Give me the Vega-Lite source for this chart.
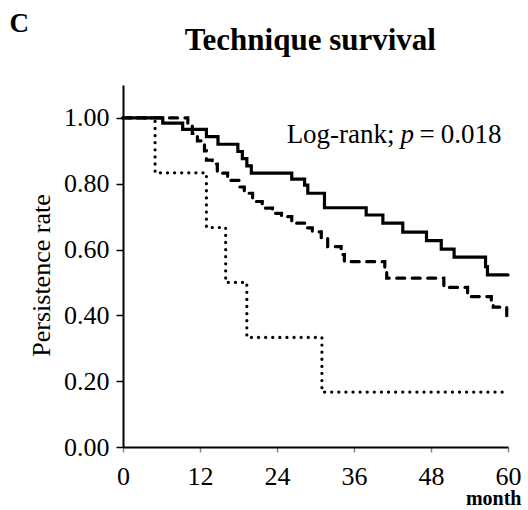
{
  "$schema": "https://vega.github.io/schema/vega-lite/v6.json",
  "width": 385,
  "height": 362,
  "autosize": {"type": "none"},
  "padding": {"left": 123, "top": 85, "right": 20, "bottom": 63},
  "background": "white",
  "config": {
    "view": {"stroke": null},
    "font": "Liberation Serif",
    "text": {"font": "Liberation Serif"}
  },
  "datasets": {
    "km": [
      {"group": "A", "month": 0, "surv": 1.0},
      {"group": "A", "month": 6.2, "surv": 0.984},
      {"group": "A", "month": 9.3, "surv": 0.965},
      {"group": "A", "month": 13.0, "surv": 0.943},
      {"group": "A", "month": 14.8, "surv": 0.92},
      {"group": "A", "month": 17.9, "surv": 0.898},
      {"group": "A", "month": 18.6, "surv": 0.876},
      {"group": "A", "month": 19.3, "surv": 0.854},
      {"group": "A", "month": 20.0, "surv": 0.832},
      {"group": "A", "month": 26.3, "surv": 0.814},
      {"group": "A", "month": 28.3, "surv": 0.796},
      {"group": "A", "month": 28.8, "surv": 0.771},
      {"group": "A", "month": 31.4, "surv": 0.727},
      {"group": "A", "month": 37.9, "surv": 0.705},
      {"group": "A", "month": 40.5, "surv": 0.68},
      {"group": "A", "month": 43.6, "surv": 0.653},
      {"group": "A", "month": 47.3, "surv": 0.627},
      {"group": "A", "month": 49.6, "surv": 0.601},
      {"group": "A", "month": 51.6, "surv": 0.577},
      {"group": "A", "month": 56.5, "surv": 0.548},
      {"group": "A", "month": 56.8, "surv": 0.523},
      {"group": "A", "month": 60, "surv": 0.523},
      {"group": "B", "month": 0, "surv": 1.0},
      {"group": "B", "month": 10.1, "surv": 0.979},
      {"group": "B", "month": 10.8, "surv": 0.953},
      {"group": "B", "month": 11.6, "surv": 0.93},
      {"group": "B", "month": 12.7, "surv": 0.9},
      {"group": "B", "month": 13.0, "surv": 0.872},
      {"group": "B", "month": 13.9, "surv": 0.86},
      {"group": "B", "month": 14.7, "surv": 0.832},
      {"group": "B", "month": 16.3, "surv": 0.81},
      {"group": "B", "month": 18.2, "surv": 0.79},
      {"group": "B", "month": 18.9, "surv": 0.771},
      {"group": "B", "month": 20.2, "surv": 0.746},
      {"group": "B", "month": 21.7, "surv": 0.726},
      {"group": "B", "month": 23.3, "surv": 0.71},
      {"group": "B", "month": 24.7, "surv": 0.7},
      {"group": "B", "month": 26.3, "surv": 0.68},
      {"group": "B", "month": 28.6, "surv": 0.666},
      {"group": "B", "month": 29.5, "surv": 0.654},
      {"group": "B", "month": 30.9, "surv": 0.634},
      {"group": "B", "month": 31.9, "surv": 0.609},
      {"group": "B", "month": 34.0, "surv": 0.585},
      {"group": "B", "month": 34.5, "surv": 0.563},
      {"group": "B", "month": 40.8, "surv": 0.537},
      {"group": "B", "month": 41.1, "surv": 0.513},
      {"group": "B", "month": 50.0, "surv": 0.485},
      {"group": "B", "month": 53.7, "surv": 0.457},
      {"group": "B", "month": 57.4, "surv": 0.44},
      {"group": "B", "month": 57.7, "surv": 0.425},
      {"group": "B", "month": 59.8, "surv": 0.396},
      {"group": "B", "month": 60, "surv": 0.396},
      {"group": "C", "month": 0, "surv": 1.0},
      {"group": "C", "month": 5, "surv": 0.833},
      {"group": "C", "month": 13, "surv": 0.667},
      {"group": "C", "month": 16, "surv": 0.5},
      {"group": "C", "month": 19.3, "surv": 0.333},
      {"group": "C", "month": 31, "surv": 0.167},
      {"group": "C", "month": 60, "surv": 0.167}
    ],
    "labels": [
      {"label": "Log-rank;", "month": 25.5, "surv": 0.923, "kind": "left"},
      {"label": "=", "month": 46.2, "surv": 0.923, "kind": "left"},
      {"label": "0.018", "month": 59.0, "surv": 0.923, "kind": "right"},
      {"label": "p", "month": 44.3, "surv": 0.923, "kind": "italic"},
      {"label": "C", "month": -17.7, "surv": 1.261, "kind": "panel"},
      {"label": "Technique survival", "month": 29.2, "surv": 1.207, "kind": "title"}
    ]
  },
  "layer": [
    {
      "data": {"name": "km"},
      "mark": {"type": "line", "interpolate": "step-after", "color": "black", "strokeWidth": 3.2, "strokeCap": "round"},
      "encoding": {
        "x": {
          "field": "month", "type": "quantitative",
          "scale": {"domain": [0, 60], "nice": false, "zero": false},
          "axis": {
            "values": [0, 12, 24, 36, 48, 60],
            "title": "month",
            "titleFont": "Liberation Serif",
            "titleFontSize": 20,
            "titleFontWeight": "bold",
            "titleColor": "black",
            "titleAnchor": "end",
            "titleAlign": "right",
            "titleBaseline": "alphabetic",
            "titleX": 398,
            "titleY": 57,
            "labelFont": "Liberation Serif",
            "labelFontSize": 26,
            "labelColor": "black",
            "labelPadding": 11,
            "labelFlush": false,
            "labelOverlap": false,
            "tickSize": 5,
            "tickColor": "#888888",
            "tickWidth": 1.5,
            "domainColor": "black",
            "domainWidth": 2,
            "grid": false
          }
        },
        "y": {
          "field": "surv", "type": "quantitative",
          "scale": {"domain": [0, 1.1], "nice": false},
          "axis": {
            "values": [0, 0.2, 0.4, 0.6, 0.8, 1.0],
            "format": ".2f",
            "title": "Persistence rate",
            "titleFont": "Liberation Serif",
            "titleFontSize": 26,
            "titleFontWeight": "normal",
            "titleColor": "black",
            "titleAngle": -90,
            "titleAlign": "center",
            "titleBaseline": "middle",
            "titleX": -82,
            "titleY": 190,
            "labelFont": "Liberation Serif",
            "labelFontSize": 26,
            "labelColor": "black",
            "labelPadding": 7,
            "labelFlush": false,
            "labelOverlap": false,
            "tickSize": 7,
            "tickColor": "black",
            "tickWidth": 1.5,
            "domainColor": "black",
            "domainWidth": 2,
            "grid": false
          }
        },
        "strokeDash": {
          "field": "group", "type": "nominal",
          "scale": {"domain": ["A", "B", "C"], "range": [[1, 0], [8, 7.5], [0.1, 7]]},
          "legend": null
        },
        "detail": {"field": "group"}
      }
    },
    {
      "data": {"name": "labels"},
      "transform": [{"filter": "datum.kind === 'left'"}],
      "mark": {"type": "text", "align": "left", "baseline": "alphabetic", "fontSize": 27, "font": "Liberation Serif", "color": "black"},
      "encoding": {
        "x": {"field": "month", "type": "quantitative"},
        "y": {"field": "surv", "type": "quantitative"},
        "text": {"field": "label"}
      }
    },
    {
      "data": {"name": "labels"},
      "transform": [{"filter": "datum.kind === 'right'"}],
      "mark": {"type": "text", "align": "right", "baseline": "alphabetic", "fontSize": 27, "font": "Liberation Serif", "color": "black"},
      "encoding": {
        "x": {"field": "month", "type": "quantitative"},
        "y": {"field": "surv", "type": "quantitative"},
        "text": {"field": "label"}
      }
    },
    {
      "data": {"name": "labels"},
      "transform": [{"filter": "datum.kind === 'italic'"}],
      "mark": {"type": "text", "align": "center", "baseline": "alphabetic", "fontSize": 27, "fontStyle": "italic", "font": "Liberation Serif", "color": "black"},
      "encoding": {
        "x": {"field": "month", "type": "quantitative"},
        "y": {"field": "surv", "type": "quantitative"},
        "text": {"field": "label"}
      }
    },
    {
      "data": {"name": "labels"},
      "transform": [{"filter": "datum.kind === 'panel'"}],
      "mark": {"type": "text", "align": "left", "baseline": "alphabetic", "fontSize": 27, "fontWeight": "bold", "font": "Liberation Serif", "color": "black"},
      "encoding": {
        "x": {"field": "month", "type": "quantitative"},
        "y": {"field": "surv", "type": "quantitative"},
        "text": {"field": "label"}
      }
    },
    {
      "data": {"name": "labels"},
      "transform": [{"filter": "datum.kind === 'title'"}],
      "mark": {"type": "text", "align": "center", "baseline": "alphabetic", "fontSize": 31, "fontWeight": "bold", "font": "Liberation Serif", "color": "black"},
      "encoding": {
        "x": {"field": "month", "type": "quantitative"},
        "y": {"field": "surv", "type": "quantitative"},
        "text": {"field": "label"}
      }
    }
  ]
}
